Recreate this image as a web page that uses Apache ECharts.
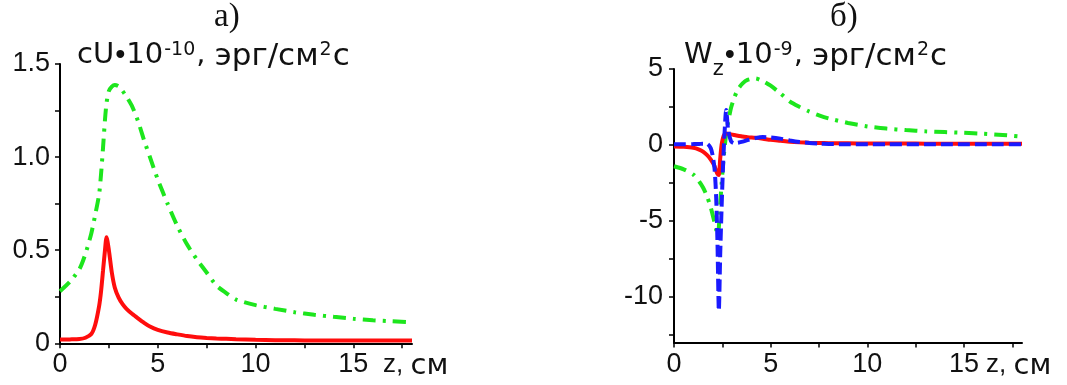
<!DOCTYPE html>
<html>
<head>
<meta charset="utf-8">
<script src="https://cdn.jsdelivr.net/npm/echarts@6/dist/echarts.min.js"></script>
<style>
  html, body { margin: 0; padding: 0; background: #fff; }
  #chart { width: 1067px; height: 385px; }
</style>
</head>
<body>
<div id="chart"></div>
<script>
// ---- panel а): energy flux density cU (×10^10 erg/cm²s) along z, cm ----
const zLeft = [0, 0.5, 1.0, 1.3, 1.6, 1.8, 2.0, 2.1, 2.2, 2.3, 2.38, 2.5, 2.65, 2.8, 3.0,
  3.2, 3.4, 3.7, 4.0, 4.3, 4.6, 5.0, 5.5, 6.0, 6.5, 7.0, 7.5, 8.0, 8.5, 9.0,
  10, 11, 12, 13, 14, 15, 16, 17, 18];
const cuGreen = [0.28, 0.33, 0.40, 0.48, 0.59, 0.69, 0.80, 0.91, 1.05, 1.20, 1.29, 1.355, 1.378, 1.387, 1.38,
  1.355, 1.325, 1.27, 1.19, 1.09, 1.00, 0.88, 0.75, 0.63, 0.53, 0.45, 0.38, 0.31, 0.27, 0.235,
  0.205, 0.185, 0.167, 0.153, 0.142, 0.132, 0.124, 0.118, 0.113];
const cuRed = [0.02, 0.021, 0.023, 0.03, 0.05, 0.10, 0.20, 0.28, 0.39, 0.50, 0.57, 0.50, 0.38, 0.30, 0.245,
  0.21, 0.185, 0.157, 0.133, 0.11, 0.09, 0.072, 0.058, 0.048, 0.039, 0.033, 0.029, 0.026, 0.024, 0.022,
  0.019, 0.017, 0.016, 0.015, 0.015, 0.015, 0.015, 0.015, 0.015];

// ---- panel б): flux component Wz (×10^9 erg/cm²s) along z, cm ----
const zRight = [0, 0.5, 1.0, 1.3, 1.5, 1.7, 1.9, 2.0, 2.1, 2.18, 2.25, 2.32, 2.39, 2.46, 2.53, 2.6, 2.7,
  2.8, 2.95, 3.1, 3.3, 3.55, 3.8, 4.2, 4.6, 5.0, 5.5, 6.0, 6.5, 7.0, 7.5, 8,
  9, 10, 11, 12, 13, 14, 15, 16, 17, 18];
const wzGreen = [-1.4, -1.6, -1.95, -2.4, -2.8, -3.35, -4.1, -4.6, -5.1, -5.55, -6.0, -5.4, -3.9, -2.6, -1.4, -0.4, 0.75,
  1.5, 2.45, 3.05, 3.65, 4.05, 4.28, 4.38, 4.2, 3.9, 3.4, 2.85, 2.5, 2.2, 1.95, 1.75,
  1.45, 1.22, 1.08, 0.98, 0.9, 0.85, 0.8, 0.74, 0.66, 0.55];
const wzRed = [-0.1, -0.12, -0.18, -0.3, -0.44, -0.65, -0.95, -1.15, -1.4, -1.7, -1.9, -1.97, -0.9, 0.0, 0.45, 0.68, 0.76,
  0.74, 0.7, 0.66, 0.61, 0.56, 0.51, 0.47, 0.41, 0.34, 0.28, 0.22, 0.18, 0.15, 0.13, 0.12,
  0.11, 0.1, 0.1, 0.1, 0.09, 0.09, 0.09, 0.09, 0.09, 0.09];
const wzBlue = [0.05, 0.05, 0.06, 0.07, 0.08, 0.08, -0.2, -0.7, -1.6, -3.4, -6.5, -10.9, -7.2, -4.2, -1.6, 0.4, 2.3,
  1.0, 0.25, 0.12, 0.15, 0.22, 0.32, 0.45, 0.52, 0.5, 0.42, 0.3, 0.2, 0.13, 0.09, 0.07,
  0.05, 0.05, 0.05, 0.05, 0.05, 0.05, 0.05, 0.05, 0.05, 0.05];

// ---- axis ticks and labels ----
const xLabelValues = [0, 5, 10, 15];
const xTickValues = [0, 2.5, 5, 7.5, 10, 12.5, 15, 17.5];
const leftYLabelValues = [0, 0.5, 1.0, 1.5];
const leftYTickValues = [0, 0.25, 0.5, 0.75, 1.0, 1.25, 1.5];
const rightYLabelValues = [-10, -5, 0, 5];
const rightYTickValues = [-12.5, -10, -7.5, -5, -2.5, 0, 2.5, 5];

const zip = (xs, ys) => xs.map((x, i) => [x, ys[i]]);

const SANS = 'Liberation Sans, Arial, sans-serif';
const WIDE = 'DejaVu Sans, sans-serif';
const SERIF = 'Liberation Serif, Times New Roman, serif';
const INK = '#111';
const GREEN = '#1de61d';
const RED = '#ff0d0d';
const BLUE = '#1a1aff';

const axisLineStyle = { onZero: false, lineStyle: { color: '#000', width: 2 } };
const tickStyle = { length: 5, lineStyle: { color: '#000', width: 1.5 } };

function xAxis(gridIndex, gap) {
  return {
    type: 'value', gridIndex, min: 0, max: 18,
    axisLine: axisLineStyle,
    axisTick: Object.assign({ customValues: xTickValues }, tickStyle),
    axisLabel: { customValues: xLabelValues, margin: 8, color: INK, fontFamily: SANS, fontSize: 27 },
    splitLine: { show: false },
    name: '{a|z, }{b|см}',
    nameLocation: 'end',
    nameGap: gap,
    nameMoveOverlap: false,
    nameTextStyle: {
      align: 'left', verticalAlign: 'top', padding: [9, 0, 0, 0],
      rich: {
        a: { fontFamily: SANS, fontSize: 26, fontWeight: 'normal', color: INK, lineHeight: 30, verticalAlign: 'top' },
        b: { fontFamily: WIDE, fontSize: 29, fontWeight: 'normal', color: INK, lineHeight: 30, verticalAlign: 'top' }
      }
    }
  };
}

function yAxis(gridIndex, min, max, ticks, labels, fmt, margin) {
  return {
    type: 'value', gridIndex, min, max,
    axisLine: { show: true, onZero: false, lineStyle: { color: '#000', width: 2 } },
    axisTick: Object.assign({ show: true, customValues: ticks }, tickStyle),
    axisLabel: { customValues: labels, formatter: fmt, margin, color: INK, fontFamily: SANS, fontSize: 27 },
    splitLine: { show: false }
  };
}

// rich styles for the axis captions: main text, product dot, Cyrillic units, superscript, subscript
const titleRich = {
  m: { fontFamily: WIDE, fontSize: 29, fontWeight: 'normal', lineHeight: 34, verticalAlign: 'top', color: INK },
  dot: { fontFamily: SANS, fontSize: 29, fontWeight: 'normal', lineHeight: 34, verticalAlign: 'top', color: INK, padding: [0, 1, 0, 1] },
  cy: { fontFamily: WIDE, fontSize: 31, fontWeight: 'normal', lineHeight: 34, verticalAlign: 'top', color: INK },
  sup: { fontFamily: WIDE, fontSize: 19, fontWeight: 'normal', lineHeight: 19, verticalAlign: 'top', color: INK, padding: [0, 1, 0, 1] },
  sub: { fontFamily: WIDE, fontSize: 21, fontWeight: 'normal', lineHeight: 21, verticalAlign: 'top', color: INK, padding: [18, 0, 0, 0] }
};

function line(name, xi, data, color, dash, z) {
  return {
    name, type: 'line', xAxisIndex: xi, yAxisIndex: xi, data,
    showSymbol: false, smooth: 0.25, z,
    lineStyle: { color, width: 4, type: dash, cap: 'butt' }
  };
}

const panelLetterStyle = { fontFamily: SERIF, fontSize: 33, lineHeight: 33, fontWeight: 'normal', color: INK };

const chart = echarts.init(document.getElementById('chart'), null, { renderer: 'canvas' });
chart.setOption({
  animation: false,
  backgroundColor: '#fff',
  title: [
    { text: 'а)', left: 214, top: 1, padding: 0, textStyle: panelLetterStyle },
    { text: 'б)', left: 830, top: 1, padding: 0, textStyle: panelLetterStyle },
    { text: '{m|cU}{dot|•}{m|10}{sup|-10}{m|, }{cy|эрг/см}{sup|2}{cy|с}', left: 77, top: 41, padding: 0,
      textStyle: { fontWeight: 'normal', rich: titleRich } },
    { text: '{m|W}{sub|z}{dot|•}{m|10}{sup|-9}{m|, }{cy|эрг/см}{sup|2}{cy|с}', left: 684, top: 41, padding: 0,
      textStyle: { fontWeight: 'normal', rich: titleRich } }
  ],
  grid: [
    { left: 60, top: 64, width: 352, height: 279.3, containLabel: false },
    { left: 674, top: 69, width: 348, height: 273.6, containLabel: false }
  ],
  xAxis: [xAxis(0, -29), xAxis(1, -36)],
  yAxis: [
    yAxis(0, 0, 1.5, leftYTickValues, leftYLabelValues, v => (v === 0 ? '0' : v.toFixed(1)), 10),
    yAxis(1, -13, 5, rightYTickValues, rightYLabelValues, v => String(v), 11)
  ],
  series: [
    line('cU dash-dot', 0, zip(zLeft, cuGreen), GREEN, [13, 7, 3, 7], 2),
    line('cU solid', 0, zip(zLeft, cuRed), RED, 'solid', 3),
    line('Wz dash-dot', 1, zip(zRight, wzGreen), GREEN, [13, 7, 3, 7], 2),
    line('Wz solid', 1, zip(zRight, wzRed), RED, 'solid', 3),
    line('Wz dashed', 1, zip(zRight, wzBlue), BLUE, [12, 5], 4)
  ]
});
</script>
</body>
</html>
